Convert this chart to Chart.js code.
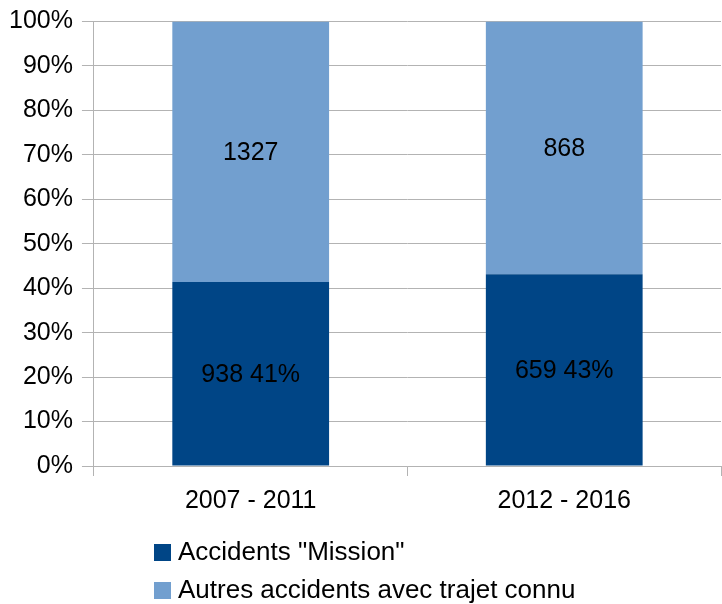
<!DOCTYPE html>
<html>
<head>
<meta charset="utf-8">
<script src="https://cdn.jsdelivr.net/npm/chart.js@4"></script>
<style>
html,body{margin:0;padding:0;background:#fff}
#wrap{width:722px;height:604px}
</style>
</head>
<body>
<div id="wrap"><canvas id="c" width="722" height="604"></canvas></div>
<script>
const periods=["2007 - 2011","2012 - 2016"]
const mission=[938,659]
const autres=[1327,868]
const seriesNames=['Accidents "Mission"',"Autres accidents avec trajet connu"]
const colors=["#004586","#729fcf"]

const totals=periods.map((p,i)=>mission[i]+autres[i])
const missionPct=mission.map((v,i)=>v/totals[i]*100)
const autresPct=autres.map((v,i)=>v/totals[i]*100)

const FONT="'Liberation Sans', Arial, sans-serif"

/* labels inside the bars */
const barLabels={
id:"barLabels",
afterDatasetsDraw(chart){
const c=chart.ctx
c.save()
c.font="25px "+FONT
c.fillStyle="#000"
c.textAlign="center"
c.textBaseline="middle"
chart.data.datasets.forEach((ds,di)=>{
chart.getDatasetMeta(di).data.forEach((bar,i)=>{
const raw=di===0?mission[i]:autres[i]
let txt=String(raw)
if(di===0) txt+=" "+Math.round(missionPct[i])+"%"
c.fillText(txt,bar.x,(bar.y+bar.base)/2+1)
})
})
c.restore()
}
}

/* vertical legend at the bottom */
const colLegend={
id:"colLegend",
afterDraw(chart){
const c=chart.ctx
c.save()
c.font="26px "+FONT
c.textBaseline="middle"
seriesNames.forEach((n,i)=>{
const y=552+i*38
c.fillStyle=colors[i]
c.fillRect(154,y-8,17,17)
c.fillStyle="#000"
c.fillText(n,178,y+1)
})
c.restore()
}
}

new Chart(document.getElementById("c"),{
type:"bar",
data:{
labels:periods,
datasets:[
{label:seriesNames[0],data:missionPct,backgroundColor:colors[0],barPercentage:0.5,categoryPercentage:1},
{label:seriesNames[1],data:autresPct,backgroundColor:colors[1],barPercentage:0.5,categoryPercentage:1}
]
},
options:{
responsive:false,
animation:false,
layout:{padding:{top:6,right:1,bottom:78,left:0}},
plugins:{legend:{display:false},tooltip:{enabled:false}},
scales:{
x:{
stacked:true,
grid:{drawOnChartArea:false,color:"#b3b3b3",tickLength:10,offset:true},
border:{color:"#b3b3b3"},
ticks:{color:"#000",font:{family:FONT,size:25},padding:10}
},
y:{
stacked:true,
min:0,max:100,
grid:{color:"#b3b3b3",tickLength:12},
border:{color:"#b3b3b3"},
ticks:{stepSize:10,color:"#000",font:{family:FONT,size:25,lineHeight:1},padding:9,callback:v=>v+"%"}
}
}
},
plugins:[barLabels,colLegend]
})
</script>
</body>
</html>
